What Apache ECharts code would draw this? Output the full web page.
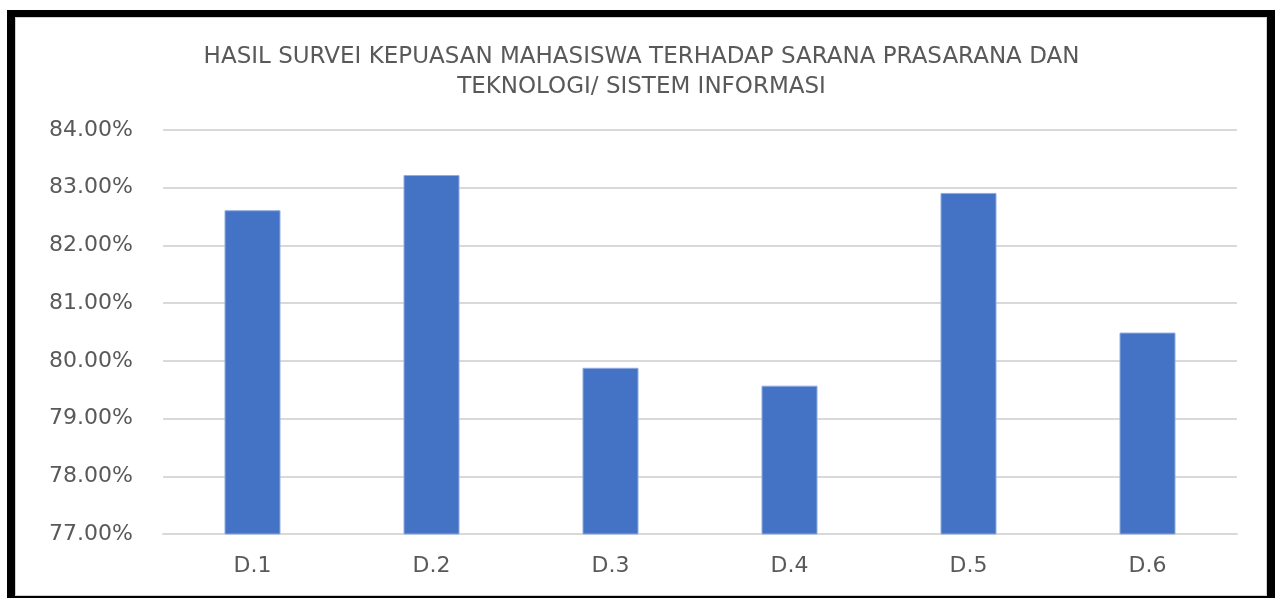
<!DOCTYPE html>
<html>
<head>
<meta charset="utf-8">
<script src="https://cdn.jsdelivr.net/npm/echarts@6/dist/echarts.min.js"></script>
<style>
    html, body { margin: 0; padding: 0; background: #ffffff; }
    #chart { position: absolute; left: 0; top: 0; width: 1283px; height: 598px; }
    .frame {
        position: absolute;
        left: 7px;
        top: 10px;
        width: 1268px;
        height: 588px;
        border-left: 8px solid #000;
        border-top: 7px solid #000;
        border-right: 8px solid #000;
        border-bottom: 2px solid #000;
        box-sizing: border-box;
        pointer-events: none;
    }
    .frame-inner {
        position: absolute;
        left: 0; top: 0; right: 0; bottom: 0;
        border: 1px solid #d0d0d0;
    }
</style>
</head>
<body>
<div id="chart"></div>
<div class="frame"><div class="frame-inner"></div></div>
<script>
// data
const categories = ['D.1', 'D.2', 'D.3', 'D.4', 'D.5', 'D.6'];
const values = [82.61, 83.22, 79.88, 79.57, 82.91, 80.49];
const yTicks = { min: 77, max: 84, step: 1 };
const titleText = 'HASIL SURVEI KEPUASAN MAHASISWA TERHADAP SARANA PRASARANA DAN\nTEKNOLOGI/ SISTEM INFORMASI';

const chart = echarts.init(document.getElementById('chart'));

const option = {
    backgroundColor: '#ffffff',
    animation: false,
    title: {
        text: titleText,
        left: 'center',
        top: 37,
        textStyle: {
            fontFamily: '"DejaVu Sans", sans-serif',
            fontSize: 23,
            fontWeight: 'normal',
            color: '#595959',
            lineHeight: 30
        }
    },
    grid: {
        left: 163,
        right: 46,
        top: 130,
        bottom: 64
    },
    xAxis: {
        type: 'category',
        data: categories,
        axisLine: { lineStyle: { color: '#d9d9d9', width: 2 } },
        axisTick: { show: false },
        axisLabel: {
            color: '#595959',
            fontSize: 22,
            fontFamily: '"DejaVu Sans", sans-serif',
            margin: 21
        }
    },
    yAxis: {
        type: 'value',
        min: yTicks.min,
        max: yTicks.max,
        interval: yTicks.step,
        axisLine: { show: false },
        axisTick: { show: false },
        axisLabel: {
            color: '#595959',
            fontSize: 22,
            fontFamily: '"DejaVu Sans", sans-serif',
            margin: 30,
            formatter: v => v.toFixed(2) + '%'
        },
        splitLine: { lineStyle: { color: '#d9d9d9', width: 2 } }
    },
    series: [
        {
            type: 'bar',
            data: values,
            barWidth: 56,
            itemStyle: {
                color: '#4472c4',
                borderColor: '#8fadde',
                borderWidth: 1
            }
        }
    ]
};

chart.setOption(option);
</script>
</body>
</html>
